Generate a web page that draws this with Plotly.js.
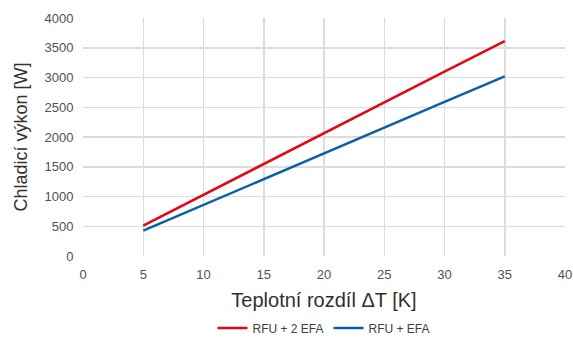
<!DOCTYPE html>
<html>
<head>
<meta charset="utf-8">
<script src="https://cdn.plot.ly/plotly-3.0.1.min.js"></script>
<style>html,body{margin:0;padding:0;background:#fff;}#chart{width:573px;height:340px;}</style>
</head>
<body>
<div id="chart"></div>
<script>
const deltaT = [5, 10, 15, 20, 25, 30, 35];
const rfu2efa = [510, 1030, 1550, 2060, 2580, 3100, 3610];
const rfuefa = [425, 860, 1290, 1725, 2160, 2590, 3020];
const seriesNames = ["RFU + 2 EFA", "RFU + EFA"];

const font = "Liberation Sans, Arial, sans-serif";
const data = [
  {x: deltaT, y: rfu2efa, name: seriesNames[0], type: "scatter", mode: "lines",
   line: {color: "#e30613", width: 2.5}},
  {x: deltaT, y: rfuefa, name: seriesNames[1], type: "scatter", mode: "lines",
   line: {color: "#0a5fa8", width: 2.5}}
];
const layout = {
  width: 573, height: 340,
  margin: {l: 83, r: 8, t: 18, b: 84, autoexpand: false},
  paper_bgcolor: "#fff", plot_bgcolor: "#fff",
  font: {family: font, color: "#404040", size: 13},
  xaxis: {
    range: [0, 40], dtick: 5, tick0: 0, automargin: false,
    showgrid: true, gridcolor: "#dcdcdc", gridwidth: 1.5,
    zeroline: false, showline: false,
    ticks: "outside", ticklen: 6, tickcolor: "rgba(0,0,0,0)",
    tickfont: {size: 13, color: "#505050"},
    title: {text: "Teplotní rozdíl ΔT [K]", font: {size: 20, color: "#303030"}, standoff: 12}
  },
  yaxis: {
    range: [0, 4000], dtick: 500, tick0: 0, automargin: false,
    showgrid: true, gridcolor: "#dcdcdc", gridwidth: 1.5,
    zeroline: false, showline: false,
    ticks: "outside", ticklen: 6, tickcolor: "rgba(0,0,0,0)",
    tickfont: {size: 13, color: "#505050"},
    title: {text: "Chladicí výkon [W]", font: {size: 18, color: "#303030"}, standoff: 12}
  },
  showlegend: true,
  legend: {orientation: "h", x: 0.5, xanchor: "center", xref: "paper",
    yref: "container", y: 0.035, yanchor: "middle",
    font: {size: 12, color: "#404040"}}
};
Plotly.newPlot("chart", data, layout, {displayModeBar: false, staticPlot: true});
</script>
</body>
</html>
